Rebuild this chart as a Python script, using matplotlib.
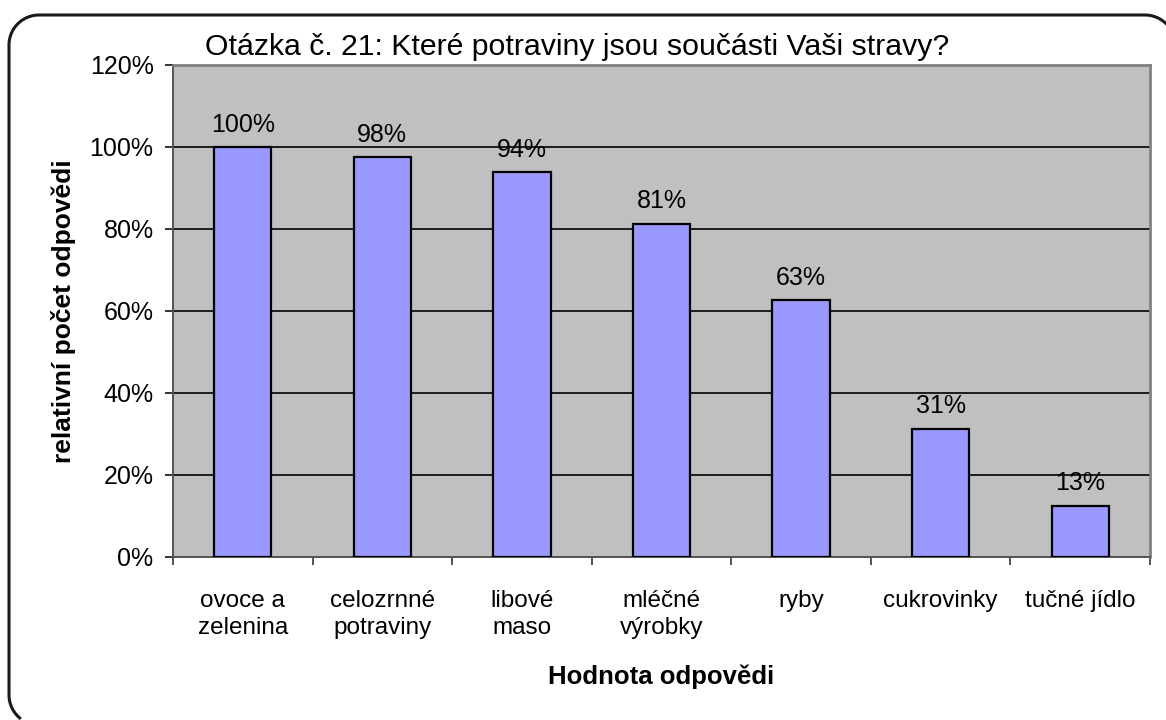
import matplotlib.pyplot as plt
from matplotlib.lines import Line2D
import numpy as np

plt.rcParams['font.family'] = ['Liberation Sans', 'DejaVu Sans']

categories = ["ovoce a\nzelenina", "celozrnné\npotraviny", "libové\nmaso", "mléčné\nvýrobky",
              "ryby", "cukrovinky", "tučné jídlo"]
values = [1.0, 0.976, 0.938, 0.813, 0.626, 0.313, 0.125]
value_labels = ["100%", "98%", "94%", "81%", "63%", "31%", "13%"]
y_ticks = [0, 0.2, 0.4, 0.6, 0.8, 1.0, 1.2]
y_tick_labels = ["0%", "20%", "40%", "60%", "80%", "100%", "120%"]

W, H = 1166, 720
fig = plt.figure(figsize=(W / 100, H / 100), dpi=100)
ax = fig.add_axes([173/W, 1 - 557/H, (1150-173)/W, (557-65)/H])

# rounded frame: only the parts that show in the picture (pixel coords, y down)
r = 30
t0 = np.linspace(0.5 * np.pi + 0.7, np.pi, 10)      # bottom-left corner
t1 = np.linspace(np.pi, 1.5 * np.pi, 20)            # top-left corner
t2 = np.linspace(1.5 * np.pi, 1.5 * np.pi + 0.8, 10)  # top-right corner
fx = np.concatenate([39 + r * np.cos(t0), 39 + r * np.cos(t1), 1145 + r * np.cos(t2)])
fy = np.concatenate([695 + r * np.sin(t0), 45 + r * np.sin(t1), 45 + r * np.sin(t2)])
fig.add_artist(Line2D(fx / 100, (H - fy) / 100, transform=fig.dpi_scale_trans,
                      color='#1a1a1a', linewidth=2.2))

x = np.arange(len(categories))
ax.set_facecolor('#C0C0C0')
ax.bar(x, values, width=0.41, color='#9999FF', edgecolor='black', linewidth=1.6, zorder=3)
for xi, v, lab in zip(x, values, value_labels):
    ax.text(xi, v + 0.025, lab, ha='center', va='bottom', fontsize=18, zorder=4)

ax.set_ylim(0, 1.2)
ax.set_xlim(-0.5, len(categories) - 0.5)
ax.set_yticks(y_ticks)
ax.set_yticklabels(y_tick_labels, fontsize=18)
ax.yaxis.grid(True, color='black', linewidth=1.2)
ax.set_axisbelow(True)

ax.set_xticks(x)
ax.set_xticklabels(categories, fontsize=17.5, linespacing=1.3)
ax.tick_params(axis='x', length=0, pad=24)
ax.set_xticks(np.arange(-0.5, len(categories)), minor=True)
ax.tick_params(axis='x', which='minor', length=6, width=1.2, color='#333333')
ax.tick_params(axis='y', length=6, width=1.4, color='#333333', pad=8)

for s in ['top', 'right']:
    ax.spines[s].set_color('#808080')
    ax.spines[s].set_linewidth(2)
for s in ['left', 'bottom']:
    ax.spines[s].set_color('#555555')
    ax.spines[s].set_linewidth(1.4)

ax.set_ylabel("relativní počet odpovědi", fontsize=19, fontweight='bold', labelpad=10)
ax.set_xlabel("Hodnota odpovědi", fontsize=18.5, fontweight='bold', labelpad=18)

fig.text(205/W, 1 - 47/H, "Otázka č. 21: Které potraviny jsou součásti Vaši stravy?",
         fontsize=21.8, ha='left', va='center')

fig.savefig("out.png", dpi=100)
